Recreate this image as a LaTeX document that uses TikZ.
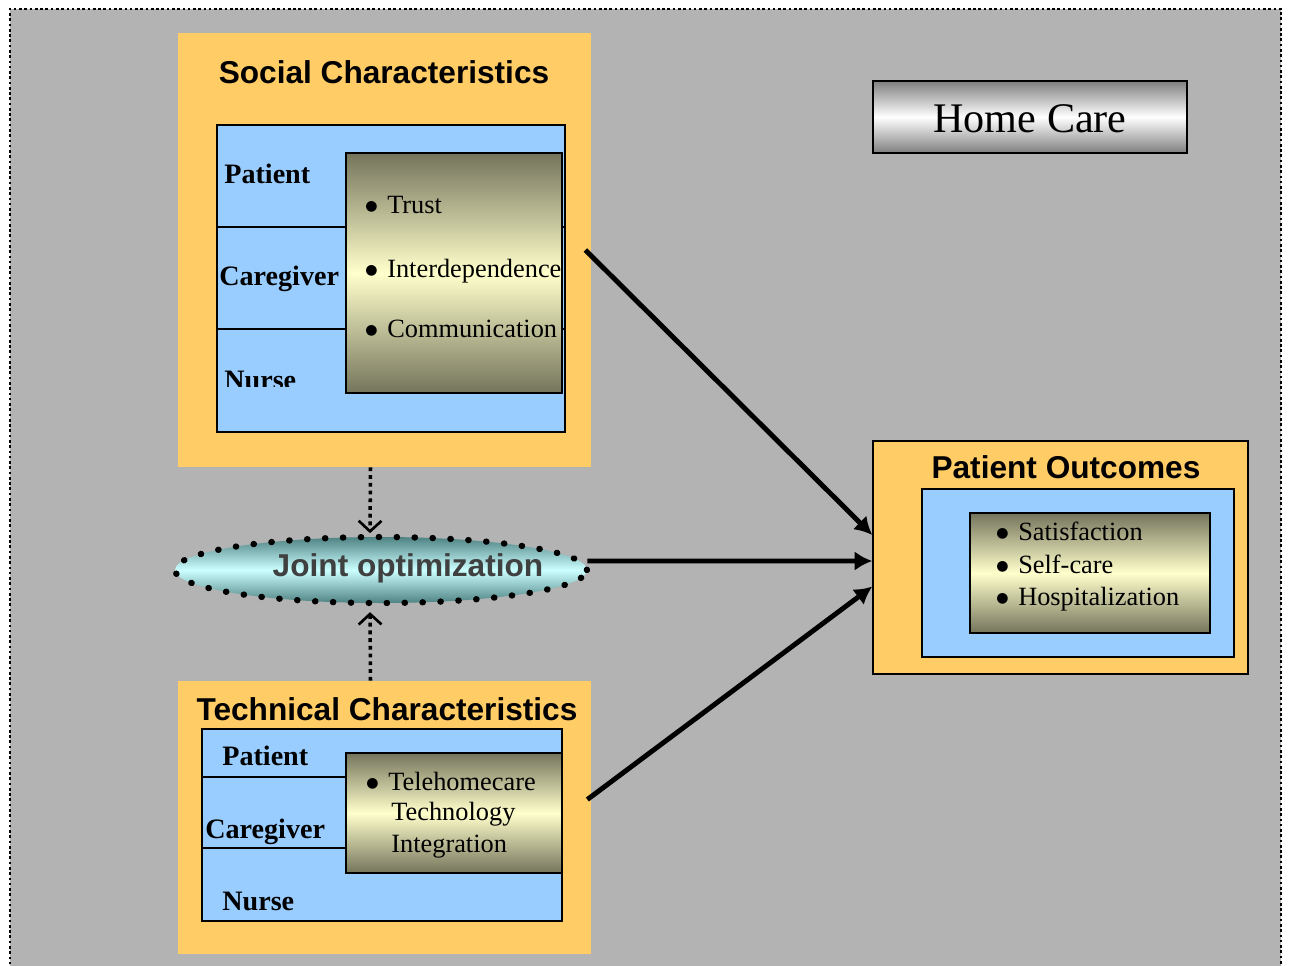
\documentclass[tikz,border=0pt]{standalone}
\usepackage{fontspec}
\setmainfont{Liberation Serif}
\setsansfont{Liberation Sans}
\newfontfamily\symfont{DejaVu Sans}
\usetikzlibrary{arrows.meta,shapes.geometric,positioning,calc,fit}

\definecolor{bggray}{HTML}{B3B3B3}
\definecolor{boxorange}{HTML}{FFCC66}
\definecolor{boxblue}{HTML}{99CCFF}
\definecolor{olivedark}{HTML}{74745C}
\definecolor{cream}{HTML}{FFFFCC}
\definecolor{tealdark}{HTML}{4F8383}
\definecolor{cyanlight}{HTML}{CCFFFF}
\definecolor{darktext}{HTML}{404040}
\definecolor{silver}{HTML}{7F7F7F}

\newcommand{\itembullet}{\raisebox{1.6pt}{\symfont\fontsize{8}{8}\selectfont ●}\hspace{5.5pt}}

\begin{document}
\begin{tikzpicture}[x=0.02cm,y=-0.02cm,
    orangebox/.style={fill=boxorange,inner sep=0pt},
    bluebox/.style={draw,line width=0.8pt,fill=boxblue,inner sep=0pt},
    shadebox/.style={draw,line width=1pt,top color=olivedark,bottom color=olivedark,middle color=cream,inner sep=0pt},
    homebox/.style={draw,line width=1.2pt,top color=silver,bottom color=silver,middle color=white,inner sep=0pt},
    jointshape/.style={ellipse,top color=tealdark,bottom color=tealdark,middle color=cyanlight,
      minimum width=8.24cm,minimum height=1.32cm,inner sep=0pt},
    jointborder/.style={line width=3.6pt,line cap=round,dash pattern=on 0.2pt off 10pt},
    heading/.style={font=\sffamily\bfseries\fontsize{18}{20}\selectfont,anchor=base,inner sep=0pt},
    roletext/.style={font=\bfseries\fontsize{16}{18}\selectfont,anchor=base west,inner sep=0pt},
    itemtext/.style={font=\fontsize{15}{18}\selectfont,anchor=base west,inner sep=0pt},
    divider/.style={line width=0.8pt},
    bigarrow/.style={-{Latex[length=10pt,width=11pt]},line width=2.8pt},
    dotarrow/.style={-{Straight Barb[length=6pt,width=13pt,line width=1.5pt]},line width=2pt,dash pattern=on 2.2pt off 2.2pt}
  ]
    \useasboundingbox (0,0) rectangle (1289,965);
    \fill[bggray] (10,9) rectangle (1281,975);
    \draw[line width=1pt,dash pattern=on 1.5pt off 1.5pt] (10,975) -- (10,9) -- (1281,9) -- (1281,975);

    % social side
    \node[orangebox,fit={(178,33) (591,467)}] (social) {};
    \node[heading] (socialtitle) at (384,83) {Social Characteristics};
    \node[bluebox,fit={(217,125) (565,432)}] (socialroles) {};
    \draw[divider] (217,227) -- (565,227);
    \draw[divider] (217,329) -- (565,329);
    \node[roletext] (spatient) at (224,183) {Patient};
    \node[roletext] (scaregiver) at (219,285) {Caregiver};
    \begin{scope}
      \clip (217,330) rectangle (346,386);
      \node[roletext] (snurse) at (224,389) {Nurse};
    \end{scope}
    \node[shadebox,fit={(346,153) (562,393)}] (socialtraits) {};
    \node[itemtext] (trust) at (365,213) {\itembullet Trust};
    \node[itemtext] (interdep) at (365,277) {\itembullet Interdependence};
    \node[itemtext] (commun) at (365,337) {\itembullet Communication};

    % joint optimization
    \node[jointshape] (joint) at (381,570) {};
    \draw[jointborder] (joint.center) ellipse [x radius=4.12cm,y radius=0.66cm];
    \node[heading,text=darktext] (jointlabel) at (408,576) {Joint optimization};

    % technical side
    \node[orangebox,fit={(178,681) (591,954)}] (tech) {};
    \node[heading] (techtitle) at (387,720) {Technical Characteristics};
    \node[bluebox,fit={(202,729) (562,921)}] (techroles) {};
    \draw[divider] (202,777) -- (346,777);
    \draw[divider] (202,848) -- (346,848);
    \node[roletext] (tpatient) at (222,765) {Patient};
    \node[roletext] (tcaregiver) at (205,838) {Caregiver};
    \node[roletext] (tnurse) at (222,910) {Nurse};
    \node[shadebox,fit={(346,753) (562,873)}] (techtraits) {};
    \node[itemtext] (telehome) at (366,790) {\itembullet Telehomecare};
    \node[itemtext] (technology) at (391,820) {Technology};
    \node[itemtext] (integration) at (391,852) {Integration};

    % right side
    \node[homebox,fit={(873,81) (1187,153)}] (homecare) {};
    \node[font=\fontsize{24}{28}\selectfont,anchor=base,inner sep=0pt] (homelabel) at (1030,132) {Home Care};
    \node[orangebox,draw,line width=0.8pt,fit={(873,441) (1248,674)}] (outcomes) {};
    \node[heading] (outcometitle) at (1066,478) {Patient Outcomes};
    \node[bluebox,fit={(922,489) (1234,657)}] (outcomeinner) {};
    \node[shadebox,fit={(970,513) (1210,633)}] (outcomelist) {};
    \node[itemtext] (satisf) at (996,540) {\itembullet Satisfaction};
    \node[itemtext] (selfcare) at (996,573) {\itembullet Self-care};
    \node[itemtext] (hospital) at (996,605) {\itembullet Hospitalization};

    \draw[dotarrow] ([xshift=-0.28cm]social.south) -- ([xshift=-0.22cm,yshift=2pt]joint.north);
    \draw[dotarrow] ([xshift=-0.28cm]tech.north) -- ([xshift=-0.22cm,yshift=-5pt]joint.south);

    \draw[bigarrow] ([xshift=-0.12cm]social.east) -- ([yshift=0.45cm]outcomes.west);
    \draw[bigarrow] ([yshift=0.18cm]joint.east) -- ([yshift=-0.07cm]outcomes.west);
    \draw[bigarrow] ([shift={(-0.08cm,0.36cm)}]tech.east) -- ([yshift=-0.58cm]outcomes.west);
\end{tikzpicture}
\end{document}
